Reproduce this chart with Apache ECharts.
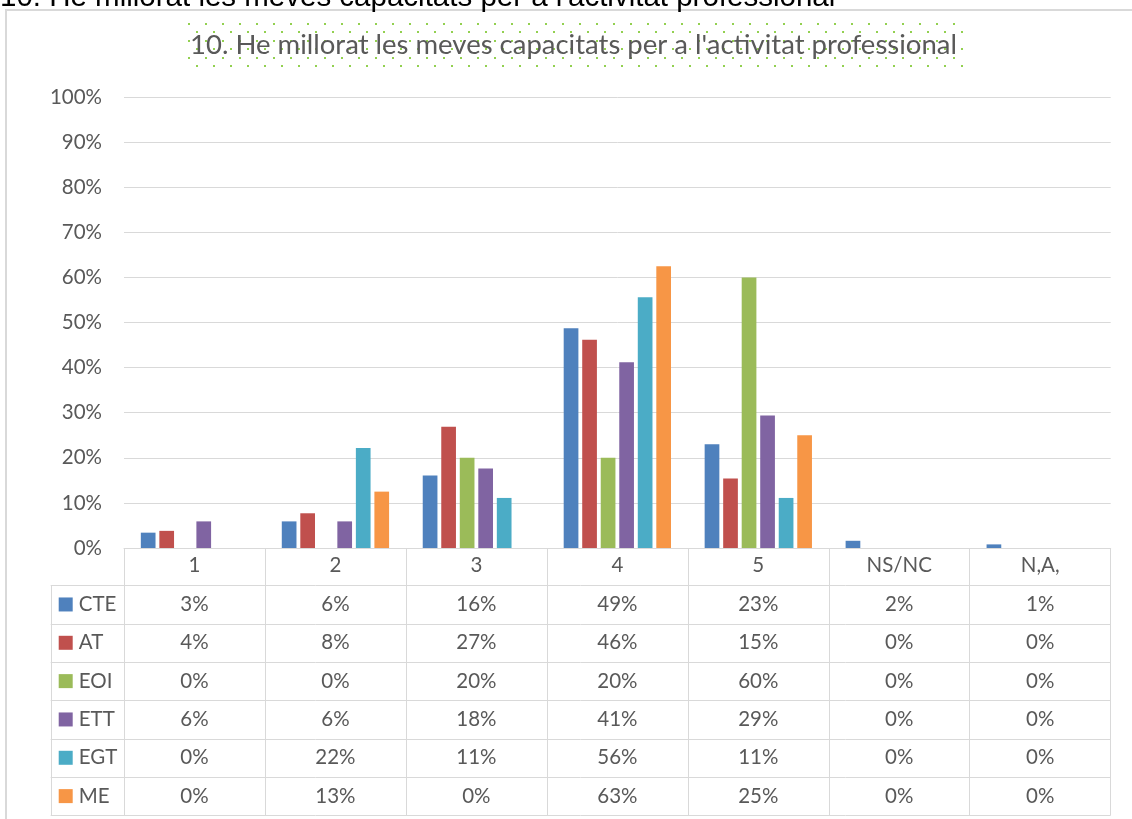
<!DOCTYPE html>
<html><head><meta charset="utf-8">
<script src="https://cdn.jsdelivr.net/npm/echarts@6/dist/echarts.min.js"></script>
<style>html,body{margin:0;padding:0;background:#fff;overflow:hidden}#c{width:1132px;height:819px}</style>
</head><body><div id="c"></div>
<script>
// ---- data ----
const pageHeading = "10. He millorat les meves capacitats per a l'activitat professional";
const chartTitle = "10. He millorat les meves capacitats per a l'activitat professional";
const categories = ['1', '2', '3', '4', '5', 'NS/NC', 'N,A,'];
const seriesNames = ['CTE', 'AT', 'EOI', 'ETT', 'EGT', 'ME'];
const CTE = [3.4, 5.9, 16.1, 48.7, 23.0, 1.6, 0.8];
const AT  = [3.8, 7.7, 26.9, 46.2, 15.4, 0, 0];
const EOI = [0, 0, 20, 20, 60, 0, 0];
const ETT = [5.9, 5.9, 17.6, 41.2, 29.4, 0, 0];
const EGT = [0, 22.2, 11.1, 55.6, 11.1, 0, 0];
const ME  = [0, 12.5, 0, 62.5, 25, 0, 0];
const seriesValues = [CTE, AT, EOI, ETT, EGT, ME];
const yMin = 0, yMax = 100, yStep = 10;

// ---- style ----
const colors = ['#4F81BD', '#C0504D', '#9BBB59', '#8064A2', '#4BACC6', '#F79646'];
const FONT = 'Lato';
const FS = 20.5;
const TXT = '#595959';
const LINE = '#D9D9D9';
const headerH = 37.3, rowH = 38.33, legendColW = 73.3;

const chart = echarts.init(document.getElementById('c'), null, {renderer: 'canvas'});

// dotted pattern for title box
const pc = document.createElement('canvas');
pc.width = 17; pc.height = 17;
const pctx = pc.getContext('2d');
pctx.fillStyle = '#92D050';
pctx.fillRect(0, 0, 2, 2);
pctx.fillRect(8, 8, 2, 2);

chart.setOption({
  animation: false,
  color: colors,
  title: {
    text: chartTitle,
    left: 190, top: 31, padding: 0, z: 10,
    textStyle: {fontFamily: FONT, fontSize: 27.5, fontWeight: 'normal', color: TXT}
  },
  grid: {left: 124, right: 21.3, top: 97, bottom: 271, containLabel: false},
  xAxis: {
    type: 'category', data: categories,
    axisLine: {show: true, lineStyle: {color: LINE, width: 1}},
    axisTick: {show: true, interval: 0, length: headerH + 6 * rowH, lineStyle: {color: LINE, width: 1}},
    axisLabel: {interval: 0, color: TXT, fontFamily: FONT, fontSize: FS, margin: 7}
  },
  yAxis: {
    type: 'value', min: yMin, max: yMax, interval: yStep,
    axisLabel: {formatter: '{value}%', color: TXT, fontFamily: FONT, fontSize: FS, margin: 22},
    axisLine: {show: false}, axisTick: {show: false},
    splitLine: {lineStyle: {color: LINE, width: 1}}
  },
  series: seriesNames.map((n, i) => ({
    name: n, type: 'bar', data: seriesValues[i],
    barWidth: 14.7, barGap: '26%',
    itemStyle: {color: colors[i]}
  }))
});

function buildGraphics() {
  const p0 = chart.convertToPixel({gridIndex: 0}, [0, yMin]);
  const p1 = chart.convertToPixel({gridIndex: 0}, [1, yMin]);
  const band = p1[0] - p0[0];
  const gLeft = p0[0] - band / 2;
  const gRight = gLeft + band * categories.length;
  const y0 = p0[1];
  const legLeft = gLeft - legendColW;
  const rowTop = i => y0 + headerH + i * rowH;
  const g = [];
  // frame
  g.push({type: 'rect', shape: {x: 6, y: 10, width: 1300, height: 1000}, style: {fill: null, stroke: LINE, lineWidth: 2}, silent: true});
  // page heading (clipped at the top of the picture)
  g.push({type: 'text', x: 0, y: -2.5, style: {text: pageHeading, font: '29.5px "Liberation Sans", Arial, sans-serif', fill: '#000', verticalAlign: 'middle'}});
  // title pattern box
  g.push({type: 'rect', shape: {x: 188, y: 23, width: 775, height: 45}, style: {fill: {image: pc, repeat: 'repeat', x: 188, y: 23}}, z: 1, silent: true});
  // horizontal table lines
  for (let i = 0; i <= seriesNames.length; i++) {
    const y = Math.round(rowTop(i)) + 0.5;
    g.push({type: 'line', shape: {x1: legLeft, y1: y, x2: gRight, y2: y}, style: {stroke: LINE, lineWidth: 1}});
  }
  // legend column left border
  g.push({type: 'line', shape: {x1: Math.round(legLeft) + 0.5, y1: rowTop(0), x2: Math.round(legLeft) + 0.5, y2: rowTop(seriesNames.length)}, style: {stroke: LINE, lineWidth: 1}});
  // legend & values
  seriesNames.forEach((n, i) => {
    const cy = rowTop(i) + rowH / 2;
    g.push({type: 'rect', shape: {x: legLeft + 8, y: cy - 7, width: 14, height: 14}, style: {fill: colors[i]}});
    g.push({type: 'text', x: legLeft + 28, y: cy, style: {text: n, font: FS + 'px ' + FONT, fill: TXT, verticalAlign: 'middle', align: 'left'}});
    seriesValues[i].forEach((v, j) => {
      const cx = gLeft + band * (j + 0.5);
      g.push({type: 'text', x: cx, y: cy, style: {text: Math.round(v) + '%', font: FS + 'px ' + FONT, fill: TXT, verticalAlign: 'middle', align: 'center'}});
    });
  });
  chart.setOption({graphic: g});
}
buildGraphics();
</script>
</body></html>
